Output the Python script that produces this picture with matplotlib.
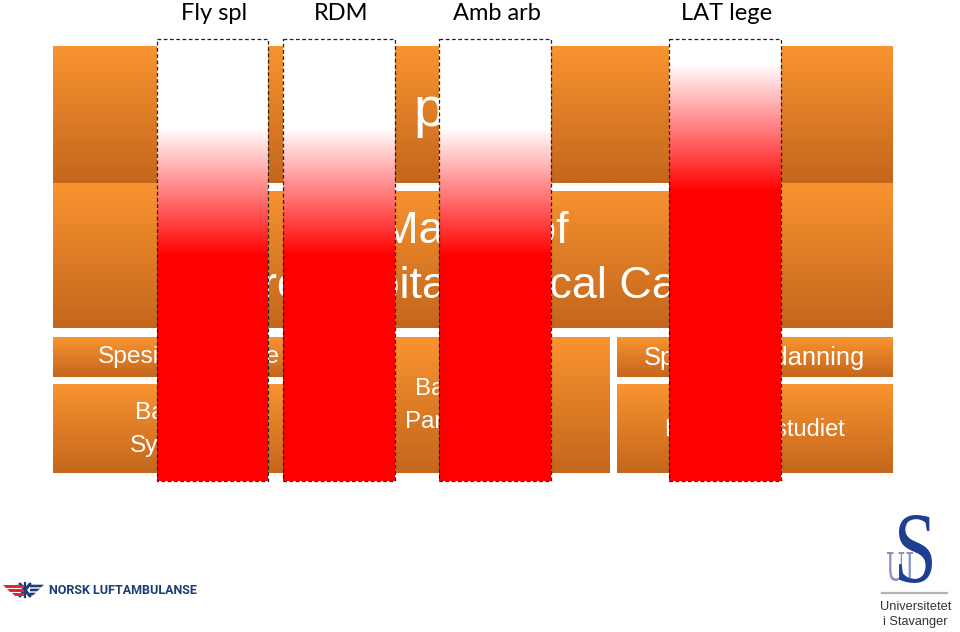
import numpy as np
import matplotlib
matplotlib.use("Agg")
import matplotlib.pyplot as plt
from matplotlib.patches import Rectangle, PathPatch, Polygon
from matplotlib.textpath import TextPath
from matplotlib.font_manager import FontProperties
from matplotlib.transforms import Affine2D

# columns (red bars) and how far down the white fades into red (fraction of bar height)
bar_labels = ["Fly spl", "RDM", "Amb arb", "LAT lege"]
fade_start = [0.20, 0.20, 0.20, 0.055]
fade_end = [0.49, 0.49, 0.49, 0.345]

# orange boxes behind the bars
box_labels = [
    "ph.d.",
    "Master of\nPrehospital Critical Care",
    "Spesialsykepleie",
    "Bachelor\nSykepleie",
    "Bachelor\nParamedic",
    "Spesialistutdanning",
    "Profesjonsstudiet",
]

# layout in pixels (x0, x1, y0, y1, text x, first baseline, font px, line step)
box_layout = [
    (53, 893, 46, 183, 476, 126, 56, 0),
    (53, 893, 183, 328, 474.5, 243, 45, 55),
    (53, 322, 337, 377, 189, 363, 24.5, 0),
    (53, 322, 384, 473, 183, 419, 24.5, 33),
    (329, 610, 337, 473, 462, 395, 24, 33),
    (617, 893, 337, 377, 754, 365, 25.5, 0),
    (617, 893, 384, 473, 754, 436, 23.5, 0),
]
bar_x = [(157, 268), (283, 395), (439, 551), (669, 781)]
bar_top, bar_bottom = 39, 481

ORANGE_TOP = np.array([249, 148, 48]) / 255
ORANGE_BOT = np.array([196, 102, 28]) / 255
RED = np.array([1.0, 0.0, 0.0])
WHITE = np.array([1.0, 1.0, 1.0])


def px(p):
    return p * 0.72


def vgrad(ax, x0, x1, y0, y1, cols, z):
    ax.imshow(cols.reshape(-1, 1, 3), extent=(x0, x1, y1, y0), origin="upper",
              aspect="auto", zorder=z, interpolation="bilinear")


fig = plt.figure(figsize=(9.6, 6.32), dpi=100)
ax = fig.add_axes([0, 0, 1, 1])

# orange boxes
for (x0, x1, y0, y1, tx, ty, fs, step), label in zip(box_layout, box_labels):
    t = np.linspace(0, 1, int(y1 - y0))[:, None]
    vgrad(ax, x0, x1, y0, y1, ORANGE_TOP * (1 - t) + ORANGE_BOT * t, 1)
    for i, line in enumerate(label.split("\n")):
        ax.text(tx, ty + i * step, line, ha="center", va="baseline", color="white",
                fontsize=px(fs), family="Liberation Sans", zorder=2)

# thin white gap between the two big bands (only visible between bars)
ax.add_patch(Rectangle((200, 183), 520, 8, color="white", lw=0, zorder=1.5))

# red fading bars
for (x0, x1), label, fs, fe in zip(bar_x, bar_labels, fade_start, fade_end):
    y = np.linspace(0, 1, bar_bottom - bar_top)[:, None]
    t = np.clip((y - fs) / (fe - fs), 0, 1)
    vgrad(ax, x0, x1, bar_top, bar_bottom, WHITE * (1 - t) + RED * t, 4)
    ax.add_patch(Rectangle((x0, bar_top), x1 - x0, bar_bottom - bar_top, fill=False,
                           ec="#222222", lw=0.9, ls=(0, (3, 2)), zorder=5))
    ax.text((x0 + x1) / 2 + 2, 20, label, ha="center", va="baseline", fontsize=17,
            family="Lato", color="black")

# Norsk Luftambulanse logo (simplified)
for dy, x_start in [(-4, 3), (0, 7), (4, 12)]:
    ax.add_patch(Polygon([(x_start, 590 + dy - 1.5), (24, 590 + dy - 1.5),
                          (24, 590 + dy + 1.5), (x_start + 3, 590 + dy + 1.5)],
                         color="#E0282E", lw=0, zorder=3))
ax.plot([20, 30], [584, 596], color="#1F3C78", lw=2.2, solid_capstyle="round")
ax.plot([20, 30], [596, 584], color="#1F3C78", lw=2.2, solid_capstyle="round")
ax.plot([25, 25], [583, 597], color="#1F3C78", lw=1.6)
for dy, x_end in [(-4, 44), (0, 40), (4, 36)]:
    ax.add_patch(Polygon([(30, 590 + dy - 1.3), (x_end, 590 + dy - 1.3),
                          (x_end - 3, 590 + dy + 1.3), (30, 590 + dy + 1.3)],
                         color="#1F3C78", lw=0, zorder=3))
ax.text(49, 594, "NORSK LUFTAMBULANSE", ha="left", va="baseline", fontsize=9.0,
        family="Roboto", weight="bold", color="#1F3C78")


# UiS logo
def glyph(text, family, box, color, weight="normal"):
    path = TextPath((0, 0), text, size=100, prop=FontProperties(family=family, weight=weight))
    ext = path.get_extents()
    x0, x1, y0, y1 = box
    tr = (Affine2D().translate(-ext.x0, -ext.y1)
          .scale((x1 - x0) / ext.width, -(y1 - y0) / ext.height)
          .translate(x0, y0))
    ax.add_patch(PathPatch(tr.transform_path(path), color=color, lw=0, zorder=3))


glyph("UI", "DejaVu Serif", (887, 913, 552, 581), "#8E90C4", weight="light")
glyph("S", "Liberation Serif", (899, 932, 515, 583), "#1E3F8F")
ax.plot([882, 947], [593, 593], color="#B4B4B4", lw=1.6)
ax.text(916, 610, "Universitetet", ha="center", va="baseline", fontsize=9.2,
        family="Liberation Sans", color="#333333")
ax.text(915, 625, "i Stavanger", ha="center", va="baseline", fontsize=9.2,
        family="Liberation Sans", color="#333333")

ax.set_xlim(0, 960)
ax.set_ylim(632, 0)
ax.axis("off")
fig.savefig("out.png", dpi=100, facecolor="white")
